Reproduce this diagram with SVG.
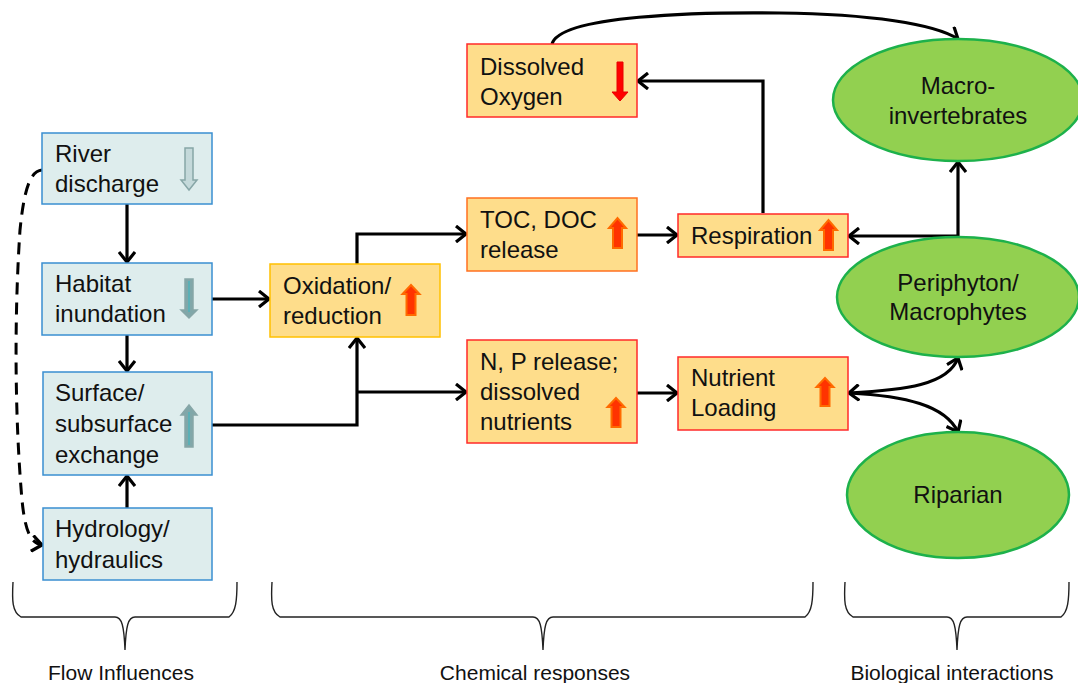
<svg xmlns="http://www.w3.org/2000/svg" width="1078" height="683" viewBox="0 0 1078 683">
<defs>
<style>
text{font-family:"Liberation Sans",Arial,sans-serif;fill:#111}
.t{font-size:24px}
.c{text-anchor:middle}
.lbl{font-size:21px;text-anchor:middle}
.flow{fill:#deeded;stroke:#3a8fd1;stroke-width:1.5}
.chem{fill:#fedd8b;stroke-width:1.5}
.ox{stroke:#ffc000}
.or{stroke:#ff7020}
.rd{stroke:#ff2a2a}
.bio{fill:#92d050;stroke:#1db14b;stroke-width:2.5}
.ln{fill:none;stroke:#000;stroke-width:3.2}
.br{fill:none;stroke:#222;stroke-width:1.4}
.up{fill:#ff3300;stroke:#ff6a00;stroke-width:2}
.dn{fill:#ff0000;stroke:#e80000;stroke-width:1}
.ga{stroke:#87a6a7;stroke-width:1.5}
</style>
<marker id="ah" viewBox="0 0 12 18" refX="11" refY="9" markerWidth="12" markerHeight="18" markerUnits="userSpaceOnUse" orient="auto-start-reverse">
<path d="M1,1 L11,9 L1,17" fill="none" stroke="#000" stroke-width="3.2"/>
</marker>
</defs>

<g id="connectors">
<path class="ln" d="M127,204 V262" marker-end="url(#ah)"/>
<path class="ln" d="M127,335 V371" marker-end="url(#ah)"/>
<path class="ln" d="M127,508 V476" marker-end="url(#ah)"/>
<path class="ln" d="M212,299 H269" marker-end="url(#ah)"/>
<path class="ln" d="M212,425 H357 V338" marker-end="url(#ah)"/>
<path class="ln" d="M357,392 H466" marker-end="url(#ah)"/>
<path class="ln" d="M357,264 V234 H466" marker-end="url(#ah)"/>
<path class="ln" d="M637,235 H677" marker-end="url(#ah)"/>
<path class="ln" d="M637,393 H677" marker-end="url(#ah)"/>
<path class="ln" d="M763,213 V81 H638" marker-end="url(#ah)"/>
<path class="ln" d="M552,44 C560,15 700,12 780,13 C870,14 935,24 958,39" marker-end="url(#ah)"/>
<path class="ln" d="M958,236 H849" marker-end="url(#ah)"/>
<path class="ln" d="M958,237 V162" marker-end="url(#ah)"/>
<path class="ln" d="M849,393 C905,390 948,385 958,358" marker-start="url(#ah)" marker-end="url(#ah)"/>
<path class="ln" d="M849,393 C905,396 945,405 958,432" marker-end="url(#ah)"/>
<path d="M42,170 C30,171 24,190 20,230 C14,320 15,420 22,500 C25,530 30,543 42,545" fill="none" stroke="#000" stroke-width="3" stroke-dasharray="12,8" marker-end="url(#ah)"/>
</g>

<g id="river-discharge">
<rect class="flow" x="42" y="133" width="170" height="71"/>
<text class="t" x="55" y="162">River</text>
<text class="t" x="55" y="192">discharge</text>
<path class="ga" d="M185,148 H193 V180 H197 L189,190 L181,180 H185 Z" fill="#c4d9da"/>
</g>
<g id="habitat-inundation">
<rect class="flow" x="42" y="263" width="170" height="72"/>
<text class="t" x="55" y="292">Habitat</text>
<text class="t" x="55" y="322">inundation</text>
<path class="ga" d="M185,279 H193 V310 H197 L189,318 L181,310 H185 Z" fill="#80a7a9"/>
<line x1="189" y1="281" x2="189" y2="312" stroke="#4fb3bb" stroke-width="1.5"/>
</g>
<g id="surface-exchange">
<rect class="flow" x="43" y="372" width="169" height="103"/>
<text class="t" x="55" y="401">Surface/</text>
<text class="t" x="55" y="432">subsurface</text>
<text class="t" x="55" y="463">exchange</text>
<path class="ga" d="M185,447 H193 V415 H197 L189,405 L181,415 H185 Z" fill="#80a7a9"/>
<line x1="189" y1="445" x2="189" y2="412" stroke="#4fb3bb" stroke-width="1.5"/>
</g>
<g id="hydrology">
<rect class="flow" x="43" y="508" width="169" height="72"/>
<text class="t" x="55" y="537">Hydrology/</text>
<text class="t" x="55" y="568">hydraulics</text>
</g>

<g id="oxidation-reduction">
<rect class="chem ox" x="270" y="264" width="170" height="73"/>
<text class="t" x="283" y="294">Oxidation/</text>
<text class="t" x="283" y="324">reduction</text>
<path class="up" d="M406.5,315 V294 H402.5 L411,285 L419.5,294 H415.5 V315 Z"/>
</g>
<g id="dissolved-oxygen">
<rect class="chem rd" x="467" y="44" width="170" height="73"/>
<text class="t" x="480" y="75">Dissolved</text>
<text class="t" x="480" y="105">Oxygen</text>
<path class="dn" d="M617,62 H623 V92 H628 L620,101 L612,92 H617 Z"/>
</g>
<g id="toc-doc">
<rect class="chem or" x="467" y="198" width="170" height="73"/>
<text class="t" x="480" y="228">TOC, DOC</text>
<text class="t" x="480" y="258">release</text>
<path class="up" d="M613,248 V228 H609 L617.5,218 L626,228 H622 V248 Z"/>
</g>
<g id="respiration">
<rect class="chem rd" x="678" y="214" width="170" height="43"/>
<text class="t" x="691" y="244">Respiration</text>
<path class="up" d="M824,250 V230 H820 L828.5,220 L837,230 H833 V250 Z"/>
</g>
<g id="np-release">
<rect class="chem rd" x="467" y="340" width="170" height="103"/>
<text class="t" x="480" y="370">N, P release;</text>
<text class="t" x="480" y="400">dissolved</text>
<text class="t" x="480" y="430">nutrients</text>
<path class="up" d="M611.5,427 V407 H607.5 L616,398 L624.5,407 H620.5 V427 Z"/>
</g>
<g id="nutrient-loading">
<rect class="chem rd" x="678" y="357" width="170" height="73"/>
<text class="t" x="691" y="386">Nutrient</text>
<text class="t" x="691" y="416">Loading</text>
<path class="up" d="M820.5,406 V387 H816.5 L825,378 L833.5,387 H829.5 V406 Z"/>
</g>

<g id="macroinvertebrates">
<ellipse class="bio" cx="958" cy="100" rx="125" ry="61"/>
<text class="t c" x="958" y="94">Macro-</text>
<text class="t c" x="958" y="124">invertebrates</text>
</g>
<g id="periphyton">
<ellipse class="bio" cx="958" cy="297" rx="121" ry="60"/>
<text class="t c" x="958" y="291">Periphyton/</text>
<text class="t c" x="958" y="320">Macrophytes</text>
</g>
<g id="riparian">
<ellipse class="bio" cx="958" cy="495" rx="111" ry="63"/>
<text class="t c" x="958" y="503">Riparian</text>
</g>

<g id="brackets">
<path class="br" d="M13,582 C12,600 12,612 21,617 H115 C122,617 124,626 125,650 C126,626 128,617 135,617 H229 C236,612 237,600 237,582"/>
<path class="br" d="M272,582 C271,600 271,612 280,617 H533 C540,617 542,626 543,650 C544,626 546,617 553,617 H805 C812,612 813,600 813,582"/>
<path class="br" d="M845,582 C844,600 844,612 853,617 H947 C954,617 956,626 957,650 C958,626 960,617 967,617 H1061 C1068,612 1069,600 1069,582"/>
<text class="lbl" x="121" y="680">Flow Influences</text>
<text class="lbl" x="535" y="680">Chemical responses</text>
<text class="lbl" x="952" y="680">Biological interactions</text>
</g>
</svg>
